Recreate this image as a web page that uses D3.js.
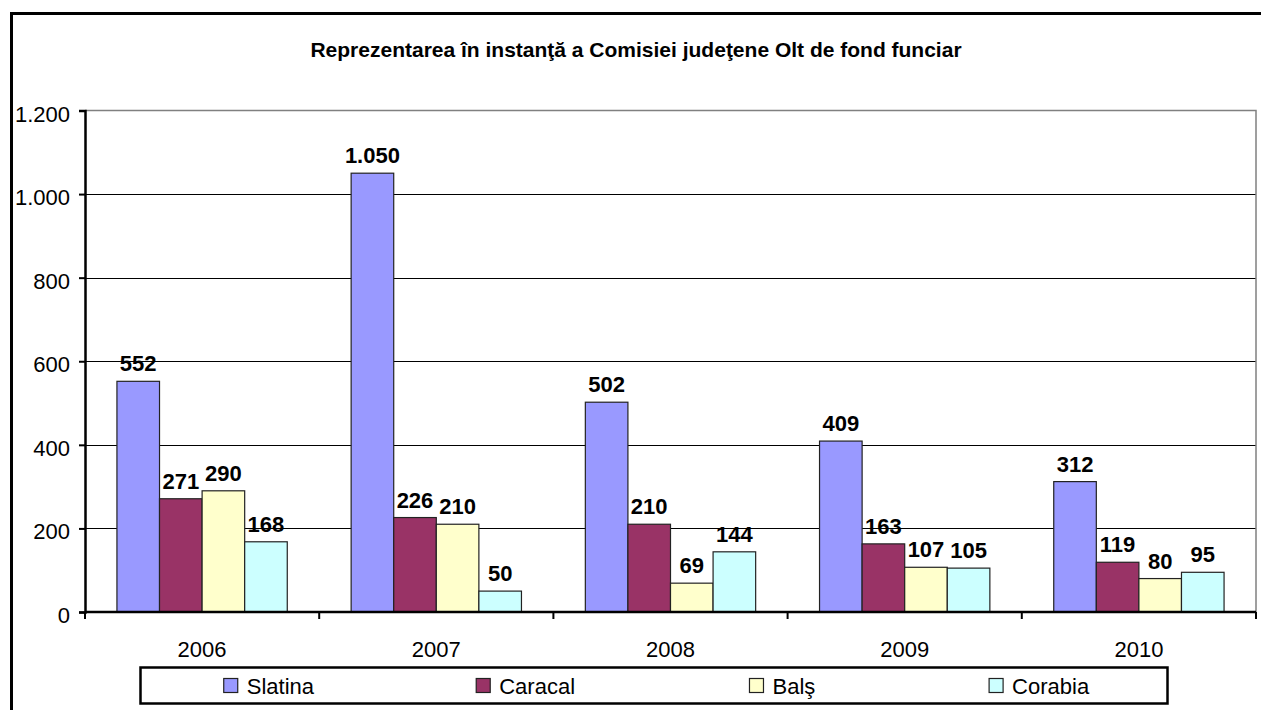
<!DOCTYPE html>
<html>
<head>
<meta charset="utf-8">
<script src="https://cdn.jsdelivr.net/npm/d3@7"></script>
<style>
  body { margin: 0; background: #fff; }
  text { font-family: Arial, "Liberation Sans", sans-serif; }
</style>
</head>
<body>
<div id="chart"></div>
<script>
// data
var years = ["2006", "2007", "2008", "2009", "2010"];
var series = ["Slatina", "Caracal", "Balş", "Corabia"];
var slatina = [552, 1050, 502, 409, 312];
var caracal = [271, 226, 210, 163, 119];
var bals = [290, 210, 69, 107, 80];
var corabia = [168, 50, 144, 105, 95];
var yTicks = [0, 200, 400, 600, 800, 1000, 1200];
var colors = ["#9999FF", "#993366", "#FFFFCC", "#CCFFFF"];
var title = "Reprezentarea în instanţă a Comisiei judeţene Olt de fond funciar";

var values = [slatina, caracal, bals, corabia];

// dimensions of the page and plot area
var W = 1261, H = 710;
var plot = {left: 85, right: 1256, top: 110.5, bottom: 612};

var ro = d3.formatLocale({decimal: ",", thousands: ".", grouping: [3], currency: ["", ""]});
var fmt = ro.format(",d");

var svg = d3.select("#chart").append("svg")
    .attr("width", W)
    .attr("height", H);

// outer chart border (runs off the right and bottom of the picture)
svg.append("rect")
    .attr("x", 11.5).attr("y", 13.5)
    .attr("width", W + 20).attr("height", H + 20)
    .attr("fill", "#fff")
    .attr("stroke", "#000")
    .attr("stroke-width", 3);

// scales
var x0 = d3.scaleBand().domain(years).range([plot.left, plot.right]).padding(0);
var x1 = d3.scaleBand().domain(series).range([0, x0.bandwidth()])
    .paddingInner(0).paddingOuter(0.75);
var y = d3.scaleLinear().domain([0, 1200]).range([plot.bottom, plot.top]);

// title
svg.append("text")
    .attr("x", 636).attr("y", 57)
    .attr("text-anchor", "middle")
    .attr("font-weight", "bold")
    .attr("font-size", "21px")
    .text(title);

// gridlines
svg.append("g").selectAll("line")
    .data(yTicks.filter(function(d) { return d > 0 && d < 1200; }))
  .enter().append("line")
    .attr("x1", plot.left).attr("x2", plot.right)
    .attr("y1", function(d) { return Math.round(y(d)) + 0.5; })
    .attr("y2", function(d) { return Math.round(y(d)) + 0.5; })
    .attr("stroke", "#000")
    .attr("stroke-width", 1.2);

// plot area border (top and right in gray)
svg.append("path")
    .attr("d", "M" + plot.left + "," + plot.top + "H" + plot.right + "V" + plot.bottom)
    .attr("fill", "none")
    .attr("stroke", "#808080")
    .attr("stroke-width", 1.5);

// bars
var groups = svg.append("g").selectAll("g")
    .data(years)
  .enter().append("g")
    .attr("transform", function(d) { return "translate(" + x0(d) + ",0)"; });

groups.selectAll("rect")
    .data(function(d, i) { return series.map(function(s, j) { return {s: s, j: j, v: values[j][i]}; }); })
  .enter().append("rect")
    .attr("x", function(d) { return x1(d.s); })
    .attr("y", function(d) { return y(d.v); })
    .attr("width", x1.bandwidth())
    .attr("height", function(d) { return y(0) - y(d.v); })
    .attr("fill", function(d) { return colors[d.j]; })
    .attr("stroke", "#222")
    .attr("stroke-width", 1.2);

groups.selectAll("text")
    .data(function(d, i) { return series.map(function(s, j) { return {s: s, j: j, v: values[j][i]}; }); })
  .enter().append("text")
    .attr("x", function(d) { return x1(d.s) + x1.bandwidth() / 2; })
    .attr("y", function(d) { return y(d.v) - 10; })
    .attr("text-anchor", "middle")
    .attr("font-weight", "bold")
    .attr("font-size", "22px")
    .text(function(d) { return fmt(d.v); });

// Y axis
var yAxis = svg.append("g")
    .attr("transform", "translate(" + plot.left + ",0)")
    .call(d3.axisLeft(y).tickValues(yTicks).tickFormat(fmt).tickSize(6).tickPadding(9));
yAxis.select(".domain").attr("stroke-width", 2.5);
yAxis.selectAll(".tick line").attr("stroke-width", 2);
yAxis.selectAll(".tick text")
    .attr("font-size", "22px")
    .attr("dy", "0.48em")
    .attr("font-family", "Arial, 'Liberation Sans', sans-serif")
    .attr("fill", "#000");

// X axis: ticks sit on the category boundaries
var xAxisG = svg.append("g")
    .attr("transform", "translate(0," + plot.bottom + ")");
xAxisG.append("line")
    .attr("x1", plot.left).attr("x2", plot.right)
    .attr("stroke", "#000").attr("stroke-width", 2.5);
var bounds = years.map(function(d) { return x0(d); }).concat([plot.right]);
xAxisG.selectAll("line.tk")
    .data(bounds)
  .enter().append("line")
    .attr("class", "tk")
    .attr("x1", function(d) { return d; }).attr("x2", function(d) { return d; })
    .attr("y1", 0).attr("y2", 7)
    .attr("stroke", "#000").attr("stroke-width", 2);
xAxisG.selectAll("text")
    .data(years)
  .enter().append("text")
    .attr("x", function(d) { return x0(d) + x0.bandwidth() / 2; })
    .attr("y", 45)
    .attr("text-anchor", "middle")
    .attr("font-size", "22px")
    .text(function(d) { return d; });

// legend
var leg = {x: 140.5, y: 667.5, w: 1027, h: 36};
svg.append("rect")
    .attr("x", leg.x).attr("y", leg.y)
    .attr("width", leg.w).attr("height", leg.h)
    .attr("fill", "#fff").attr("stroke", "#000").attr("stroke-width", 2.5);

var slot = leg.w / series.length;
var items = svg.append("g").selectAll("g")
    .data(series)
  .enter().append("g");

items.append("text")
    .attr("y", leg.y + 26)
    .attr("font-size", "22px")
    .text(function(d) { return d; });

items.each(function(d, i) {
  var g = d3.select(this);
  var tw = g.select("text").node().getComputedTextLength();
  var total = 14 + 9 + tw;
  var start = leg.x + slot * i + (slot - total) / 2;
  g.append("rect")
    .attr("x", start).attr("y", leg.y + 11)
    .attr("width", 14).attr("height", 14)
    .attr("fill", colors[i])
    .attr("stroke", "#222").attr("stroke-width", 1.2);
  g.select("text").attr("x", start + 23);
});
</script>
</body>
</html>
